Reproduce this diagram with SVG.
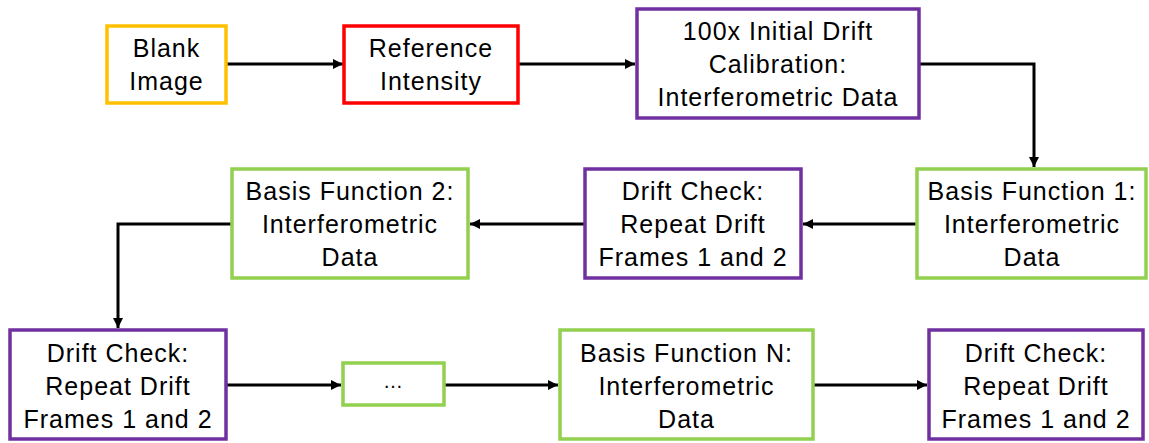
<svg xmlns="http://www.w3.org/2000/svg" width="1149" height="443" viewBox="0 0 1149 443">
<defs>
<marker id="ah" markerWidth="10" markerHeight="10" refX="10" refY="5" orient="auto" markerUnits="userSpaceOnUse">
<path d="M0,0 L10,5 L0,10 Z" fill="#000"/>
</marker>
<style>
rect{fill:#fff;stroke-width:3.5}
.y{stroke:#FFC000}.r{stroke:#FF0000}.p{stroke:#7030A0}.g{stroke:#92D050}
text{font-family:"Liberation Sans",Arial,sans-serif;font-size:25px;letter-spacing:1px;fill:#000;text-anchor:middle}
.c path{fill:none;stroke:#000;stroke-width:3;marker-end:url(#ah)}
</style>
</defs>
<rect width="1149" height="443" style="fill:#fff;stroke:none"/>
<g class="c" id="connectors">
<path d="M227,64 L343,64"/>
<path d="M519,64 L635,64"/>
<path d="M919,64 L1034,64 L1034,167"/>
<path d="M917,224 L803,224"/>
<path d="M585,224 L470,224"/>
<path d="M232,224 L118,224 L118,328"/>
<path d="M226,385 L341,385"/>
<path d="M444,385 L558,385"/>
<path d="M813,385 L927,385"/>
</g>
<g id="blank"><rect class="y" x="107" y="26" width="119" height="77"/><text x="166.5" y="57">Blank</text><text x="166.5" y="90">Image</text></g>
<g id="reference"><rect class="r" x="344" y="26" width="174" height="77"/><text x="431" y="57">Reference</text><text x="431" y="90">Intensity</text></g>
<g id="calibration"><rect class="p" x="637" y="9" width="282" height="109"/><text x="778" y="40">100x Initial Drift</text><text x="778" y="73">Calibration:</text><text x="778" y="106">Interferometric Data</text></g>
<g id="bf1"><rect class="g" x="917" y="169" width="229" height="109"/><text x="1032" y="200">Basis Function 1:</text><text x="1032" y="233">Interferometric</text><text x="1032" y="266">Data</text></g>
<g id="drift1"><rect class="p" x="585" y="169" width="216" height="109"/><text x="693" y="200">Drift Check:</text><text x="693" y="233">Repeat Drift</text><text x="693" y="266">Frames 1 and 2</text></g>
<g id="bf2"><rect class="g" x="232" y="169" width="236" height="109"/><text x="350" y="200">Basis Function 2:</text><text x="350" y="233">Interferometric</text><text x="350" y="266">Data</text></g>
<g id="drift2"><rect class="p" x="10" y="330" width="216" height="109"/><text x="118" y="362">Drift Check:</text><text x="118" y="395">Repeat Drift</text><text x="118" y="428">Frames 1 and 2</text></g>
<g id="ellipsis"><rect class="g" x="343" y="363" width="101" height="42"/><text x="393.5" y="388" style="font-size:20px">…</text></g>
<g id="bfn"><rect class="g" x="560" y="330" width="253" height="109"/><text x="686.5" y="362">Basis Function N:</text><text x="686.5" y="395">Interferometric</text><text x="686.5" y="428">Data</text></g>
<g id="drift3"><rect class="p" x="929" y="330" width="214" height="109"/><text x="1036" y="362">Drift Check:</text><text x="1036" y="395">Repeat Drift</text><text x="1036" y="428">Frames 1 and 2</text></g>
</svg>
